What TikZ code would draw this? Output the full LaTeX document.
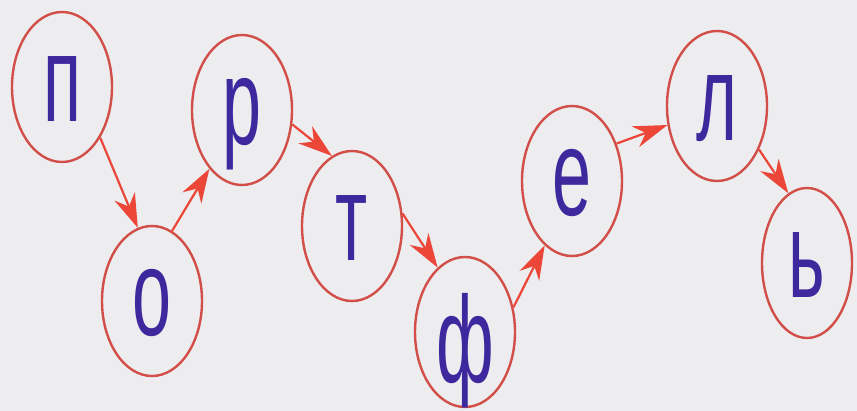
\documentclass[tikz,border=0pt]{standalone}
\usepackage{fontspec}
\setmainfont{Liberation Sans}
\usetikzlibrary{shapes.geometric,arrows.meta}
\definecolor{paper}{RGB}{237,236,239}
\definecolor{ringred}{RGB}{210,78,72}
\definecolor{arrred}{RGB}{236,70,56}
\definecolor{letterblue}{RGB}{62,40,158}
\newcommand{\lt}[1]{\scalebox{0.57}[1]{\fontsize{123}{123}\selectfont #1}}
\tikzset{
  letterring/.style={ellipse, draw=ringred, line width=2.4pt, inner sep=0pt,
    minimum width=100pt, minimum height=150pt, text=letterblue,
    text height=70pt, text depth=0pt},
  link/.style={draw=arrred, line width=2.2pt,
    -{Stealth[length=34pt,width=22pt,inset=11pt]}}
}
\begin{document}
\begin{tikzpicture}[x=1pt,y=-1pt]
\fill[paper] (0,0) rectangle (857,411);
\useasboundingbox (0,0) rectangle (857,411);
\node[letterring] (p) at (62,87) {\lt{п}};
\node[letterring] (o) at (152,301) {\lt{о}};
\node[letterring] (r) at (242,110) {\lt{р}};
\node[letterring] (t) at (352,226) {\lt{т}};
\node[letterring, text height=102pt] (f) at (465,332) {\lt{ф}};
\node[letterring] (e) at (572,181) {\lt{е}};
\node[letterring] (l) at (717,106) {\lt{л}};
\node[letterring, minimum width=90pt] (b) at (807,263) {\lt{ь}};
\draw[link] (p.-53) -- (o.101);
\draw[link] (o.74) -- (r.241);
\draw[link] (r.-16) -- (t.106);
\draw[link] (t.14) -- (f.113);
\draw[link] (f.27) -- (e.247);
\draw[link] (e.40) -- (l.201);
\draw[link] (l.-46) -- (b.105);
\end{tikzpicture}
\end{document}
